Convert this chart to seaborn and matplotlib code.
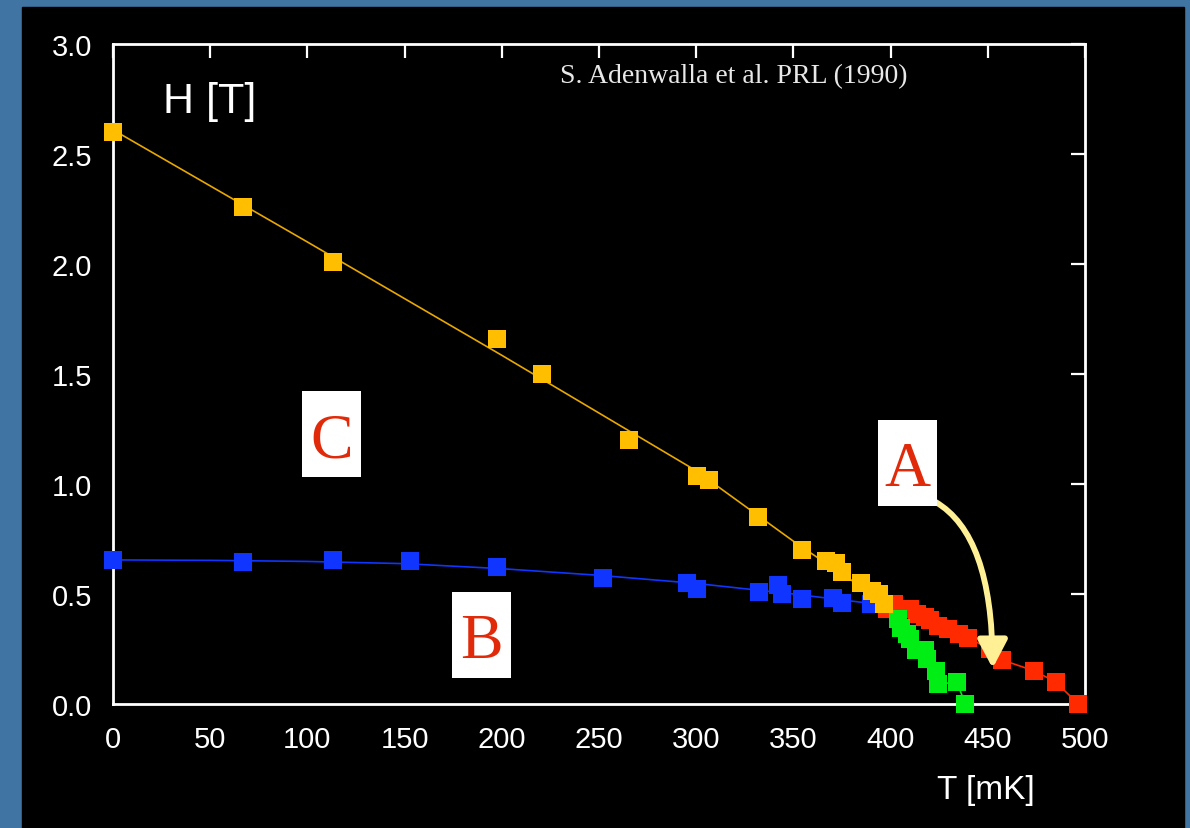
import numpy as np
import pandas as pd
import matplotlib
matplotlib.use('Agg')
import matplotlib.pyplot as plt
import seaborn as sns
from matplotlib.patches import Rectangle, FancyArrowPatch

# data (T in mK, H in T)
orange_T = [0, 67, 113, 197.5, 220.5, 265.5, 300.5, 306.5, 332, 354.5, 367, 372, 375, 385, 390.5, 394, 396.5]
orange_H = [2.60, 2.26, 2.01, 1.66, 1.50, 1.20, 1.035, 1.02, 0.85, 0.70, 0.65, 0.64, 0.60, 0.55, 0.515, 0.50, 0.455]

blue_T = [0, 67, 113, 153, 197.5, 252, 295.5, 300.5, 332.5, 342, 344, 354.5, 370.5, 375, 390]
blue_H = [0.655, 0.645, 0.655, 0.65, 0.623, 0.573, 0.551, 0.525, 0.51, 0.54, 0.50, 0.477, 0.483, 0.459, 0.455]

red_T = [398, 402, 410, 413.5, 417.5, 420.5, 424.5, 429.5, 435, 440, 451, 457.5, 474, 485, 496.5]
red_H = [0.43, 0.455, 0.432, 0.41, 0.395, 0.38, 0.355, 0.34, 0.32, 0.30, 0.25, 0.20, 0.15, 0.10, 0.0]

green_T = [404, 405.5, 408.5, 410, 413, 417.5, 418.5, 423.5, 424.5, 434, 438.5]
green_H = [0.385, 0.345, 0.32, 0.295, 0.245, 0.245, 0.205, 0.15, 0.09, 0.10, 0.0]

# guide lines through the data
orange_fit_T = [0, 100, 200, 300, 350, 375, 398]
orange_fit_H = [2.61, 2.10, 1.585, 1.06, 0.74, 0.59, 0.46]
blue_fit_T = [0, 50, 100, 150, 200, 250, 300, 350, 390]
blue_fit_H = [0.655, 0.653, 0.648, 0.638, 0.615, 0.585, 0.548, 0.50, 0.457]

x_ticks = [0, 50, 100, 150, 200, 250, 300, 350, 400, 450, 500]
y_ticks = [0.0, 0.5, 1.0, 1.5, 2.0, 2.5, 3.0]

c_orange = '#FFBF00'
c_blue = '#0F35FF'
c_red = '#FF2A00'
c_green = '#00EE14'

sns.set_style('dark')
plt.rcParams['font.family'] = ['Liberation Sans', 'DejaVu Sans']

fig = plt.figure(figsize=(11.9, 8.29), dpi=100, facecolor='#3F74A3')
fig.add_artist(Rectangle((22 / 1190, 0), (1184 - 22) / 1190, (829 - 8) / 829,
                         transform=fig.transFigure, color='black', zorder=-1))
ax = fig.add_axes([113 / 1190, 1 - 705 / 829, 972 / 1190, 660 / 829])
ax.set_facecolor('black')

sns.lineplot(x=orange_fit_T, y=orange_fit_H, color='#E8A800', lw=1.2, ax=ax, zorder=2)
sns.lineplot(x=blue_fit_T, y=blue_fit_H, color=c_blue, lw=1.2, ax=ax, zorder=2)
sns.lineplot(x=red_T, y=red_H, color=c_red, lw=1.2, ax=ax, zorder=2, sort=False, estimator=None)
sns.lineplot(x=green_T, y=green_H, color=c_green, lw=1.2, ax=ax, zorder=2, sort=False, estimator=None)

kw = dict(marker='s', s=155, linewidth=0, ax=ax, clip_on=False)
sns.scatterplot(x=red_T, y=red_H, color=c_red, zorder=3, **kw)
sns.scatterplot(x=green_T, y=green_H, color=c_green, zorder=4, **kw)
sns.scatterplot(x=blue_T, y=blue_H, color=c_blue, zorder=5, **kw)
sns.scatterplot(x=orange_T, y=orange_H, color=c_orange, zorder=6, **kw)

ax.set_xlim(0, 500)
ax.set_ylim(0, 3.0)
ax.set_xticks(x_ticks)
ax.set_yticks(y_ticks)
ax.set_yticklabels([f'{v:.1f}' for v in y_ticks])
ax.grid(False)
for sp in ax.spines.values():
    sp.set_visible(True)
    sp.set_color('white')
    sp.set_linewidth(2)
ax.tick_params(direction='in', length=10, width=1.6, color='white', labelcolor='white',
               labelsize=21, top=True, right=True, pad=15)
ax.tick_params(axis='y', pad=15)
ax.set_xlabel('')
ax.set_ylabel('')

ax.text(0.0514, 0.914, 'H [T]', transform=ax.transAxes, color='white', fontsize=31,
        ha='left', va='center')
ax.text(0.898, -0.129, 'T [mK]', transform=ax.transAxes, color='white', fontsize=24,
        ha='center', va='center')
ax.text(0.46, 0.9515, 'S. Adenwalla et al. PRL (1990)', transform=ax.transAxes,
        color='#E8E8E8', fontsize=20, family='Liberation Serif', ha='left', va='center')

# phase labels in white boxes
boxes = {'C': (97.2, 1.032), 'B': (174.4, 0.118), 'A': (393.5, 0.90)}
bw, bh = 30.4, 0.39
for lab, (x0, y0) in boxes.items():
    ax.add_patch(Rectangle((x0, y0), bw, bh, facecolor='white', edgecolor='none', zorder=8))
    ax.text(x0 + bw / 2, y0 + bh / 2, lab, color='#E02A0A', fontsize=46,
            family='Liberation Serif', ha='center', va='center_baseline', zorder=9)

arrow = FancyArrowPatch((421.8, 0.925), (452.5, 0.15),
                        connectionstyle='angle3,angleA=-28,angleB=90',
                        arrowstyle='-|>,head_length=0.85,head_width=0.45',
                        mutation_scale=20, lw=4.2, color='#FFF096', zorder=7)
ax.add_patch(arrow)

fig.savefig('out.png', dpi=100, facecolor=fig.get_facecolor())
